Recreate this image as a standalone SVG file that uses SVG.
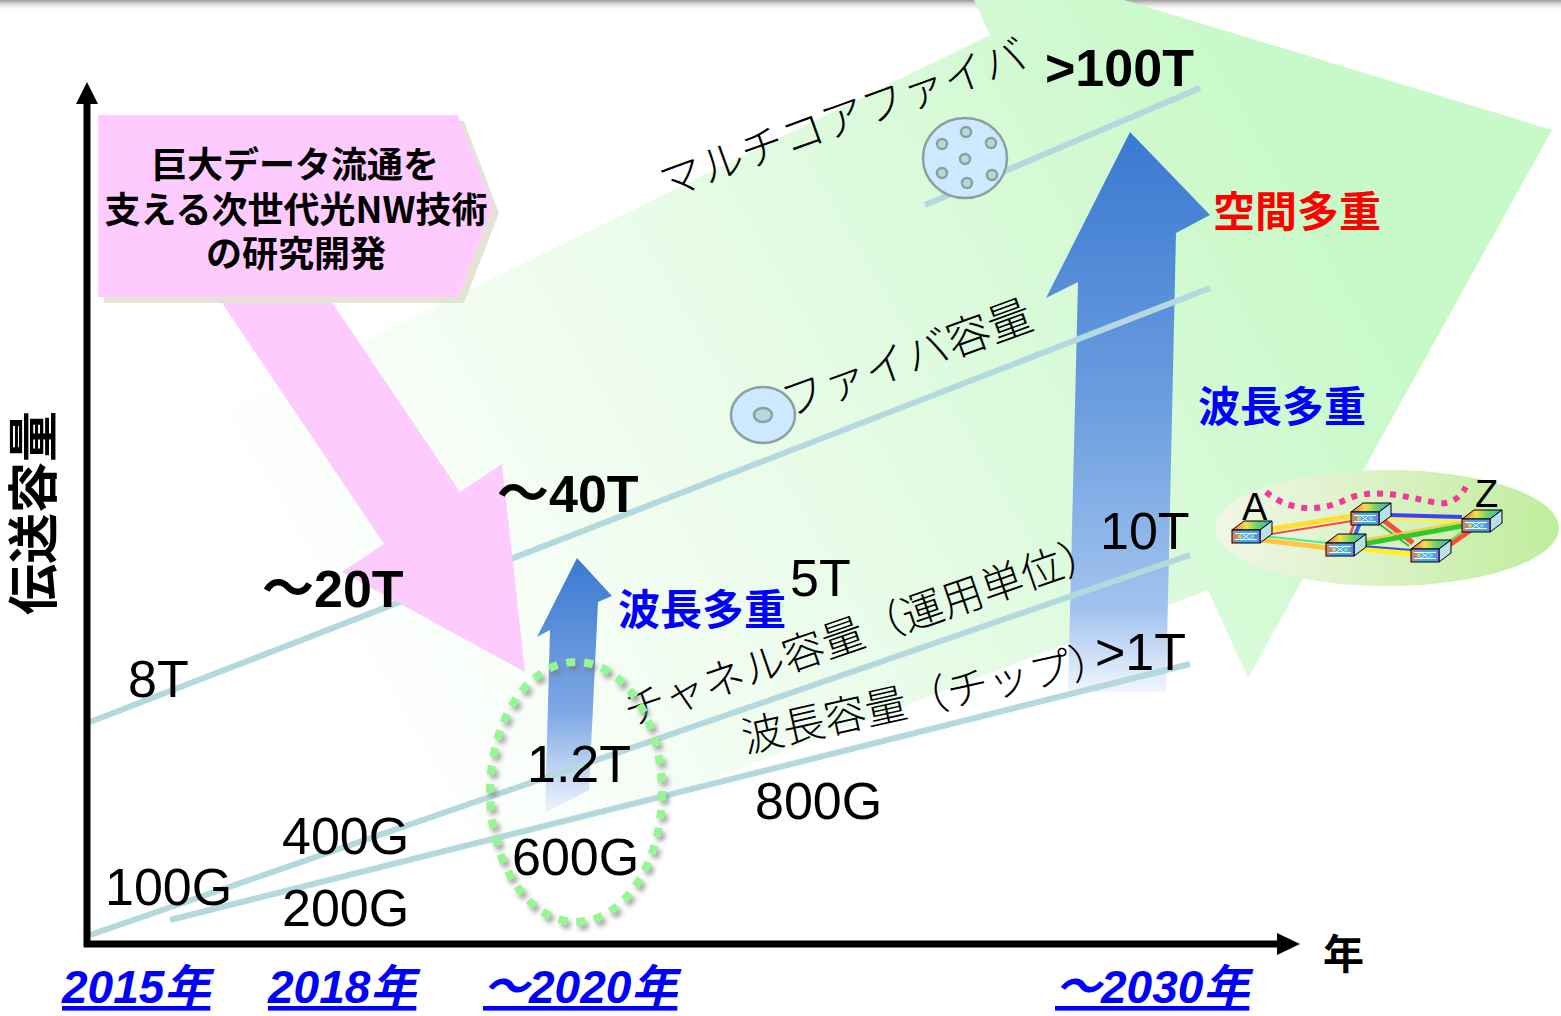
<svg xmlns="http://www.w3.org/2000/svg" width="1561" height="1016" viewBox="0 0 1561 1016">
  <defs>
    <style>
      .val { font-family: "Liberation Sans", Arial, "Noto Sans CJK JP", sans-serif; font-size: 52px; fill: #000; }
      .bold { font-weight: bold; }
      .thin { font-family: "Noto Sans CJK JP", sans-serif; font-weight: 300; fill: #000; }
      .mux { font-family: "Noto Sans CJK JP", sans-serif; font-weight: 700; font-size: 42px; }
      .year { font-family: "Liberation Sans", Arial, "Noto Sans CJK JP", sans-serif; font-weight: bold; font-style: italic; font-size: 46px; fill: #0000ff; text-decoration: underline; }
      .title { font-family: "Noto Sans CJK JP", sans-serif; font-weight: 700; font-size: 36px; fill: #000; }
      .trend { stroke: #b3d9df; stroke-width: 6; fill: none; }
      .fiber { fill: #cce9ff; stroke: #8d9f9f; stroke-width: 2.5; }
      .core { fill: #b6dada; stroke: #8d9f9f; stroke-width: 2.5; }
      .edge { fill: none; stroke-linecap: butt; }
    </style>
    <linearGradient id="topShade" x1="0" y1="0" x2="0" y2="1">
      <stop offset="0" stop-color="#9c9c9c"/>
      <stop offset="1" stop-color="#ffffff" stop-opacity="0"/>
    </linearGradient>
    <linearGradient id="greenFade" gradientUnits="userSpaceOnUse" x1="360" y1="720" x2="1300" y2="170">
      <stop offset="0" stop-color="#ffffff"/>
      <stop offset="0.4" stop-color="#ecfcec"/>
      <stop offset="1" stop-color="#c8f9c8"/>
    </linearGradient>
    <linearGradient id="bigBlue" gradientUnits="userSpaceOnUse" x1="0" y1="132" x2="0" y2="695">
      <stop offset="0" stop-color="#3a78d0"/>
      <stop offset="0.5" stop-color="#6d9fe0"/>
      <stop offset="0.85" stop-color="#a3c3ee"/>
      <stop offset="1" stop-color="#f4f8ff"/>
    </linearGradient>
    <linearGradient id="smallBlue" gradientUnits="userSpaceOnUse" x1="0" y1="558" x2="0" y2="815">
      <stop offset="0" stop-color="#3a79d0"/>
      <stop offset="0.6" stop-color="#7ea8e4"/>
      <stop offset="1" stop-color="#f2f6ff"/>
    </linearGradient>
    <linearGradient id="netFill" x1="0" y1="0" x2="1" y2="0">
      <stop offset="0" stop-color="#f1f6e8"/>
      <stop offset="1" stop-color="#c0ed9c"/>
    </linearGradient>
    <linearGradient id="swFront" x1="0" y1="0" x2="1" y2="0">
      <stop offset="0" stop-color="#f07a50"/>
      <stop offset="0.3" stop-color="#3fa6f2"/>
      <stop offset="0.8" stop-color="#3fa6f2"/>
      <stop offset="1" stop-color="#8a74e6"/>
    </linearGradient>
    <linearGradient id="swTop" x1="0" y1="0" x2="1" y2="0">
      <stop offset="0" stop-color="#f0603c"/>
      <stop offset="0.35" stop-color="#f6e04a"/>
      <stop offset="0.65" stop-color="#62d26a"/>
      <stop offset="1" stop-color="#45a2ee"/>
    </linearGradient>
    <filter id="blur" x="-20%" y="-20%" width="140%" height="140%">
      <feGaussianBlur stdDeviation="2.5"/>
    </filter>
    <!-- optical switch box, front face top-left at origin -->
    <g id="switch">
      <polygon points="0,0 12,-9 40,-9 28,0" fill="url(#swTop)" stroke="#000" stroke-width="1"/>
      <polygon points="28,0 40,-9 40,4 28,13" fill="#b9e1e8" stroke="#000" stroke-width="1"/>
      <rect x="0" y="0" width="28" height="13" fill="url(#swFront)" stroke="#000" stroke-width="1"/>
      <path d="M9,3 L19,10 M9,10 L19,3 M3,3.5 H25 M3,9.5 H25" stroke="#ffffff" stroke-width="1" fill="none"/>
      <circle cx="8" cy="6.5" r="2.2" fill="#f4c040"/>
      <circle cx="20" cy="6.5" r="2.2" fill="#7fd0c0"/>
    </g>
  </defs>

  <!-- page edge shade -->
  <rect x="0" y="0" width="1561" height="11" fill="url(#topShade)"/>

  <!-- broad growth arrow -->
  <polygon id="growth-arrow" points="40,500 990,35 950,-53 1552,130 1248,678 1208,590 710,780 100,1016" fill="url(#greenFade)"/>

  <!-- network picture backdrop -->
  <ellipse cx="1387" cy="528" rx="172" ry="58" fill="url(#netFill)"/>

  <!-- multiplexing arrows -->
  <polygon id="sdm-arrow" points="1130,132 1210,215 1176,233 1166,692 1068,692 1078,282 1046,298" fill="url(#bigBlue)"/>
  <polygon id="wdm-arrow" points="577,558 612,596 598,602 589,790 545,813 550,630 537,637" fill="url(#smallBlue)"/>

  <!-- capacity trend lines -->
  <g id="trends">
    <line class="trend" x1="90" y1="722" x2="1210" y2="288"/>
    <line class="trend" x1="925" y1="205" x2="1200" y2="88"/>
    <line class="trend" x1="90" y1="935" x2="1190" y2="555"/>
    <line class="trend" x1="170" y1="920" x2="1190" y2="664"/>
  </g>

  <!-- research arrow and its heading box -->
  <polygon id="rd-arrow" points="218,297 384,544 342,572 525,672 502,464 460,492 317,280" fill="#fdcbfd"/>
  <g id="rd-box">
    <polygon points="104,121 464,121 499,213 464,303 104,303" fill="#e4e4d4"/>
    <polygon points="98,115 458,115 493,207 458,297 98,297" fill="#fdcbfd"/>
    <text class="title" text-anchor="middle" x="295" y="178">巨大データ流通を</text>
    <text class="title" text-anchor="middle" x="296" y="223">支える次世代光NW技術</text>
    <text class="title" text-anchor="middle" x="296" y="267">の研究開発</text>
  </g>

  <!-- fibre cross-sections -->
  <g id="single-core-fiber">
    <ellipse class="fiber" cx="763" cy="415" rx="32" ry="28"/>
    <ellipse class="core" cx="763" cy="415" rx="9" ry="7"/>
  </g>
  <g id="multi-core-fiber">
    <ellipse class="fiber" cx="965" cy="158" rx="42" ry="40"/>
    <circle class="core" cx="966" cy="132" r="5"/>
    <circle class="core" cx="942" cy="144" r="5"/>
    <circle class="core" cx="991" cy="143" r="5"/>
    <circle class="core" cx="965" cy="159" r="5"/>
    <circle class="core" cx="942" cy="173" r="5"/>
    <circle class="core" cx="992" cy="175" r="5"/>
    <circle class="core" cx="967" cy="183" r="5"/>
  </g>

  <!-- rotated series labels -->
  <text class="thin" style="font-size:43px" text-anchor="middle" transform="translate(848,133) rotate(-20)">マルチコアファイバ</text>
  <text class="thin" style="font-size:44px" text-anchor="middle" transform="translate(912,373) rotate(-20)">ファイバ容量</text>
  <text class="thin" style="font-size:42px" text-anchor="middle" transform="translate(868,645) rotate(-19)">チャネル容量（運用単位）</text>
  <text class="thin" style="font-size:42px" text-anchor="middle" transform="translate(930,712) rotate(-12.5)">波長容量（チップ）</text>

  <!-- capacity values -->
  <g id="values">
    <text class="val" x="128" y="697">8T</text>
    <text class="val" x="105" y="905">100G</text>
    <text class="val" x="282" y="854">400G</text>
    <text class="val" x="282" y="926">200G</text>
    <text class="val" x="512" y="875">600G</text>
    <text class="val" x="527" y="782">1.2T</text>
    <text class="val" x="790" y="596">5T</text>
    <text class="val" x="755" y="819">800G</text>
    <text class="val" x="1100" y="549">10T</text>
    <text class="val" x="1095" y="670">&gt;1T</text>
    <text class="val bold" x="262" y="607">～20T</text>
    <text class="val bold" x="497" y="512">～40T</text>
    <text class="val bold" x="1045" y="86">&gt;100T</text>
  </g>

  <!-- multiplexing labels -->
  <text class="mux" fill="#0000ff" x="618" y="625">波長多重</text>
  <text class="mux" fill="#0000ff" x="1198" y="422">波長多重</text>
  <text class="mux" fill="#ff0000" x="1213" y="227">空間多重</text>

  <!-- optical network sketch -->
  <g id="net-links">
    <line class="edge" x1="1265" y1="530" x2="1352" y2="516" stroke="#ffe030" stroke-width="5"/>
    <line class="edge" x1="1265" y1="535" x2="1352" y2="521" stroke="#ff4a3a" stroke-width="2"/>
    <line class="edge" x1="1262" y1="540" x2="1328" y2="548" stroke="#ffc640" stroke-width="5"/>
    <line class="edge" x1="1262" y1="536" x2="1328" y2="543" stroke="#50e890" stroke-width="2"/>
    <line class="edge" x1="1388" y1="515" x2="1462" y2="517" stroke="#4040f0" stroke-width="4"/>
    <line class="edge" x1="1388" y1="519" x2="1462" y2="522" stroke="#fff030" stroke-width="2.5"/>
    <line class="edge" x1="1360" y1="523" x2="1355" y2="535" stroke="#4060f0" stroke-width="4"/>
    <line class="edge" x1="1354" y1="524" x2="1350" y2="535" stroke="#ff4a3a" stroke-width="2.5"/>
    <line class="edge" x1="1383" y1="520" x2="1413" y2="543" stroke="#ff4a3a" stroke-width="5"/>
    <line class="edge" x1="1378" y1="523" x2="1409" y2="546" stroke="#30c030" stroke-width="2"/>
    <line class="edge" x1="1363" y1="544" x2="1462" y2="526" stroke="#30c830" stroke-width="5"/>
    <line class="edge" x1="1363" y1="540" x2="1462" y2="522" stroke="#ffc640" stroke-width="2"/>
    <line class="edge" x1="1362" y1="549" x2="1412" y2="554" stroke="#fff020" stroke-width="5"/>
    <line class="edge" x1="1362" y1="546" x2="1412" y2="550" stroke="#4040f0" stroke-width="2"/>
    <line class="edge" x1="1448" y1="546" x2="1471" y2="530" stroke="#ff4a3a" stroke-width="5"/>
    <line class="edge" x1="1446" y1="543" x2="1468" y2="528" stroke="#50e850" stroke-width="2"/>
    <path class="edge" d="M1266,492 C1290,512 1320,512 1345,500 C1370,488 1400,495 1437,503 C1452,505 1460,497 1466,487" stroke="#f0389a" stroke-width="6" stroke-dasharray="6 7"/>
  </g>
  <g id="node-a"><use href="#switch" x="1232" y="530"/></g>
  <g id="node-b"><use href="#switch" x="1351" y="512"/></g>
  <g id="node-c"><use href="#switch" x="1326" y="543"/></g>
  <g id="node-d"><use href="#switch" x="1411" y="549"/></g>
  <g id="node-z"><use href="#switch" x="1462" y="519"/></g>
  <text class="val" style="font-size:38px" x="1242" y="520">A</text>
  <text class="val" style="font-size:38px" x="1475" y="507">Z</text>

  <!-- 2020 highlight ring -->
  <g id="highlight">
    <ellipse cx="579" cy="796" rx="86" ry="130" fill="none" stroke="#7a7a7a" stroke-width="8" stroke-dasharray="9 9" opacity="0.7" filter="url(#blur)"/>
    <ellipse cx="576" cy="792" rx="86" ry="130" fill="none" stroke="#94f794" stroke-width="8" stroke-dasharray="9 9"/>
  </g>

  <!-- axes -->
  <g id="axes">
    <line x1="87" y1="102" x2="87" y2="947" stroke="#000" stroke-width="7"/>
    <polygon points="87,82 98,104 76,104" fill="#000"/>
    <line x1="84" y1="944" x2="1280" y2="944" stroke="#000" stroke-width="7"/>
    <polygon points="1300,944 1277,933 1277,955" fill="#000"/>
    <text class="title" style="font-size:51px" text-anchor="middle" transform="translate(52,513) rotate(-90)">伝送容量</text>
    <text class="title" style="font-size:41px" x="1323" y="969">年</text>
  </g>

  <!-- year ticks -->
  <g id="years">
    <text class="year" x="62" y="1003">2015年</text>
    <text class="year" x="268" y="1003">2018年</text>
    <text class="year" x="483" y="1003">～2020年</text>
    <text class="year" x="1055" y="1003">～2030年</text>
  </g>
</svg>
